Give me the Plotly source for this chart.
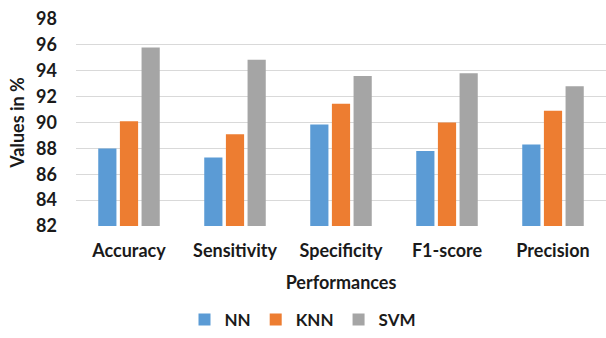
import plotly.graph_objects as go

categories = ["Accuracy", "Sensitivity", "Specificity", "F1-score", "Precision"]
nn_values = [88.0, 87.3, 89.85, 87.8, 88.3]
knn_values = [90.1, 89.1, 91.45, 90.0, 90.9]
svm_values = [95.8, 94.85, 93.6, 93.8, 92.8]
y_ticks = [82, 84, 86, 88, 90, 92, 94, 96, 98]

FONT = "Lato"
TEXT = "#1a1a1a"

fig = go.Figure()
for name, vals, color in [
    ("NN", nn_values, "#5B9BD5"),
    ("KNN", knn_values, "#ED7D31"),
    ("SVM", svm_values, "#A5A5A5"),
]:
    fig.add_trace(go.Bar(x=categories, y=vals, name=name, marker_color=color,
                         marker_line_width=0))

fig.update_layout(
    width=606, height=338,
    margin=dict(l=76, r=0, t=19, b=112),
    paper_bgcolor="white", plot_bgcolor="white",
    barmode="group", bargap=0.387, bargroupgap=0.16,
    font=dict(family=FONT, size=18, color=TEXT),
    legend=dict(orientation="h", xref="container", x=0.5, xanchor="center",
                yref="container", y=-0.02, yanchor="bottom",
                font=dict(family=FONT, size=17, color=TEXT, weight="bold"),
                itemwidth=30, traceorder="normal", tracegroupgap=0),
    xaxis=dict(
        title=dict(text="<b>Performances</b>", standoff=16,
                   font=dict(family=FONT, size=18)),
        tickfont=dict(family=FONT, size=18, weight="bold"),
        showline=False, ticks="", ticklabelstandoff=12,
    ),
    yaxis=dict(
        range=[82, 98], tickvals=y_ticks,
        title=dict(text="<b>Values in %</b>", standoff=6,
                   font=dict(family=FONT, size=18)),
        tickfont=dict(family=FONT, size=18, weight="bold"),
        showgrid=True, gridcolor="#d9d9d9", gridwidth=1,
        zeroline=False, ticks="", ticklabelstandoff=18,
    ),
)

fig.write_html("out.html")
